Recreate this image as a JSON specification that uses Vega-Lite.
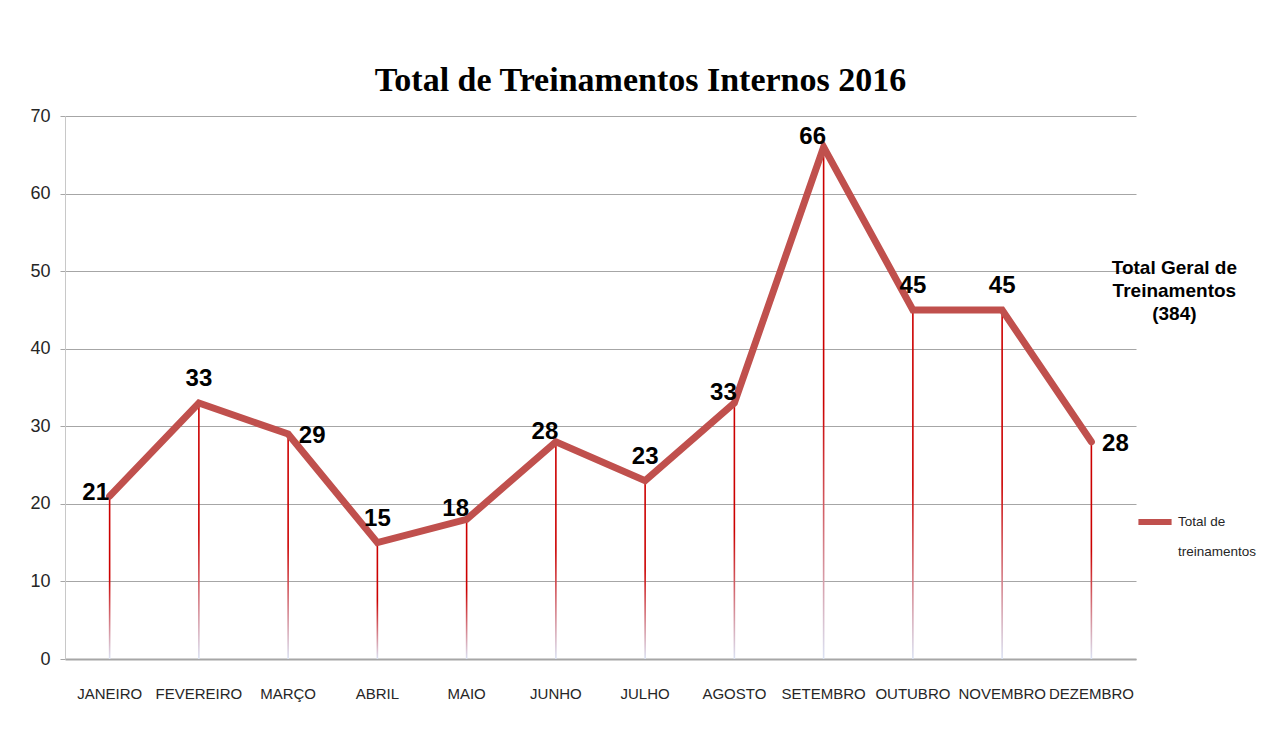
{
  "$schema": "https://vega.github.io/schema/vega-lite/v6.json",
  "width": 1071,
  "height": 543,
  "autosize": {"type": "none"},
  "padding": {"left": 65, "top": 116, "right": 127, "bottom": 88},
  "background": "white",
  "title": {
    "text": "Total de Treinamentos Internos 2016",
    "font": "Liberation Serif",
    "fontSize": 34,
    "fontWeight": "bold",
    "color": "#000000",
    "anchor": "middle",
    "offset": 9,
    "dx": 40
  },
  "config": {
    "view": {"stroke": null},
    "font": "Liberation Sans"
  },
  "data": {
    "values": [
      {"mes": "JANEIRO", "total": 21},
      {"mes": "FEVEREIRO", "total": 33},
      {"mes": "MARÇO", "total": 29},
      {"mes": "ABRIL", "total": 15},
      {"mes": "MAIO", "total": 18},
      {"mes": "JUNHO", "total": 28},
      {"mes": "JULHO", "total": 23},
      {"mes": "AGOSTO", "total": 33},
      {"mes": "SETEMBRO", "total": 66},
      {"mes": "OUTUBRO", "total": 45},
      {"mes": "NOVEMBRO", "total": 45},
      {"mes": "DEZEMBRO", "total": 28}
    ]
  },
  "encoding": {
    "x": {
      "field": "mes",
      "type": "nominal",
      "sort": null,
      "scale": {"type": "band", "paddingInner": 0, "paddingOuter": 0},
      "axis": {
        "title": null,
        "labelAngle": 0,
        "ticks": false,
        "grid": false,
        "domainColor": "#a6a6a6",
        "domainWidth": 2,
        "labelPadding": 27,
        "labelFont": "Liberation Sans",
        "labelFontSize": 15,
        "labelColor": "#262626"
      }
    },
    "y": {
      "field": "total",
      "type": "quantitative",
      "scale": {"domain": [0, 70], "nice": false},
      "axis": {
        "title": null,
        "values": [0, 10, 20, 30, 40, 50, 60, 70],
        "grid": true,
        "gridColor": "#a6a6a6",
        "gridWidth": 1.2,
        "domainColor": "#c8c8c8",
        "tickColor": "#a6a6a6",
        "tickSize": 5,
        "labelPadding": 10,
        "labelFont": "Liberation Sans",
        "labelFontSize": 18,
        "labelColor": "#262626"
      }
    }
  },
  "layer": [
    {
      "mark": {
        "type": "bar",
        "size": 1.6,
        "fill": {
          "gradient": "linear",
          "x1": 0, "y1": 0, "x2": 0, "y2": 1,
          "stops": [
            {"offset": 0, "color": "#cc0000"},
            {"offset": 0.5, "color": "#cc0000"},
            {"offset": 1, "color": "#dbe3f4"}
          ]
        }
      }
    },
    {
      "mark": {"type": "line", "strokeWidth": 7, "strokeCap": "round"},
      "encoding": {
        "color": {
          "datum": "Total de treinamentos",
          "type": "nominal",
          "scale": {"range": ["#c0504d"]},
          "legend": {
            "title": null,
            "orient": "none",
            "legendX": 1070,
            "legendY": 386,
            "padding": 0,
            "symbolType": "stroke",
            "symbolStrokeWidth": 6,
            "symbolSize": 1100,
            "labelFont": "Liberation Sans",
            "labelFontSize": 13.5,
            "labelColor": "#262626",
            "labelOffset": 3,
            "labelLimit": 200,
            "labelExpr": "['Total de', 'treinamentos']",
            "labelBaseline": "middle",
            "encode": {"labels": {"update": {"lineHeight": {"value": 30}}}}
          }
        }
      }
    },
    {
      "transform": [{"filter": {"field": "mes", "oneOf": ["FEVEREIRO", "ABRIL", "JULHO", "OUTUBRO", "NOVEMBRO"]}}],
      "mark": {"type": "text", "fontWeight": "bold", "fontSize": 24, "color": "#000000", "align": "center", "baseline": "middle", "dy": -24},
      "encoding": {"text": {"field": "total", "type": "quantitative"}}
    },
    {
      "transform": [{"filter": {"field": "mes", "oneOf": ["MAIO", "JUNHO", "AGOSTO", "SETEMBRO"]}}],
      "mark": {"type": "text", "fontWeight": "bold", "fontSize": 24, "color": "#000000", "align": "center", "baseline": "middle", "dx": -11, "dy": -10},
      "encoding": {"text": {"field": "total", "type": "quantitative"}}
    },
    {
      "transform": [{"filter": {"field": "mes", "oneOf": ["MARÇO", "DEZEMBRO"]}}],
      "mark": {"type": "text", "fontWeight": "bold", "fontSize": 24, "color": "#000000", "align": "center", "baseline": "middle", "dx": 24, "dy": 2},
      "encoding": {"text": {"field": "total", "type": "quantitative"}}
    },
    {
      "transform": [{"filter": {"field": "mes", "oneOf": ["JANEIRO"]}}],
      "mark": {"type": "text", "fontWeight": "bold", "fontSize": 24, "color": "#000000", "align": "center", "baseline": "middle", "dx": -14, "dy": -3},
      "encoding": {"text": {"field": "total", "type": "quantitative"}}
    },
    {
      "transform": [{"filter": {"field": "mes", "equal": "DEZEMBRO"}}],
      "mark": {
        "type": "text",
        "text": ["Total Geral de", "Treinamentos", "(384)"],
        "fontWeight": "bold",
        "fontSize": 19,
        "lineHeight": 23,
        "color": "#000000",
        "align": "center",
        "baseline": "top",
        "dx": 83,
        "dy": -12
      },
      "encoding": {
        "y": {"datum": 50}
      }
    }
  ]
}
